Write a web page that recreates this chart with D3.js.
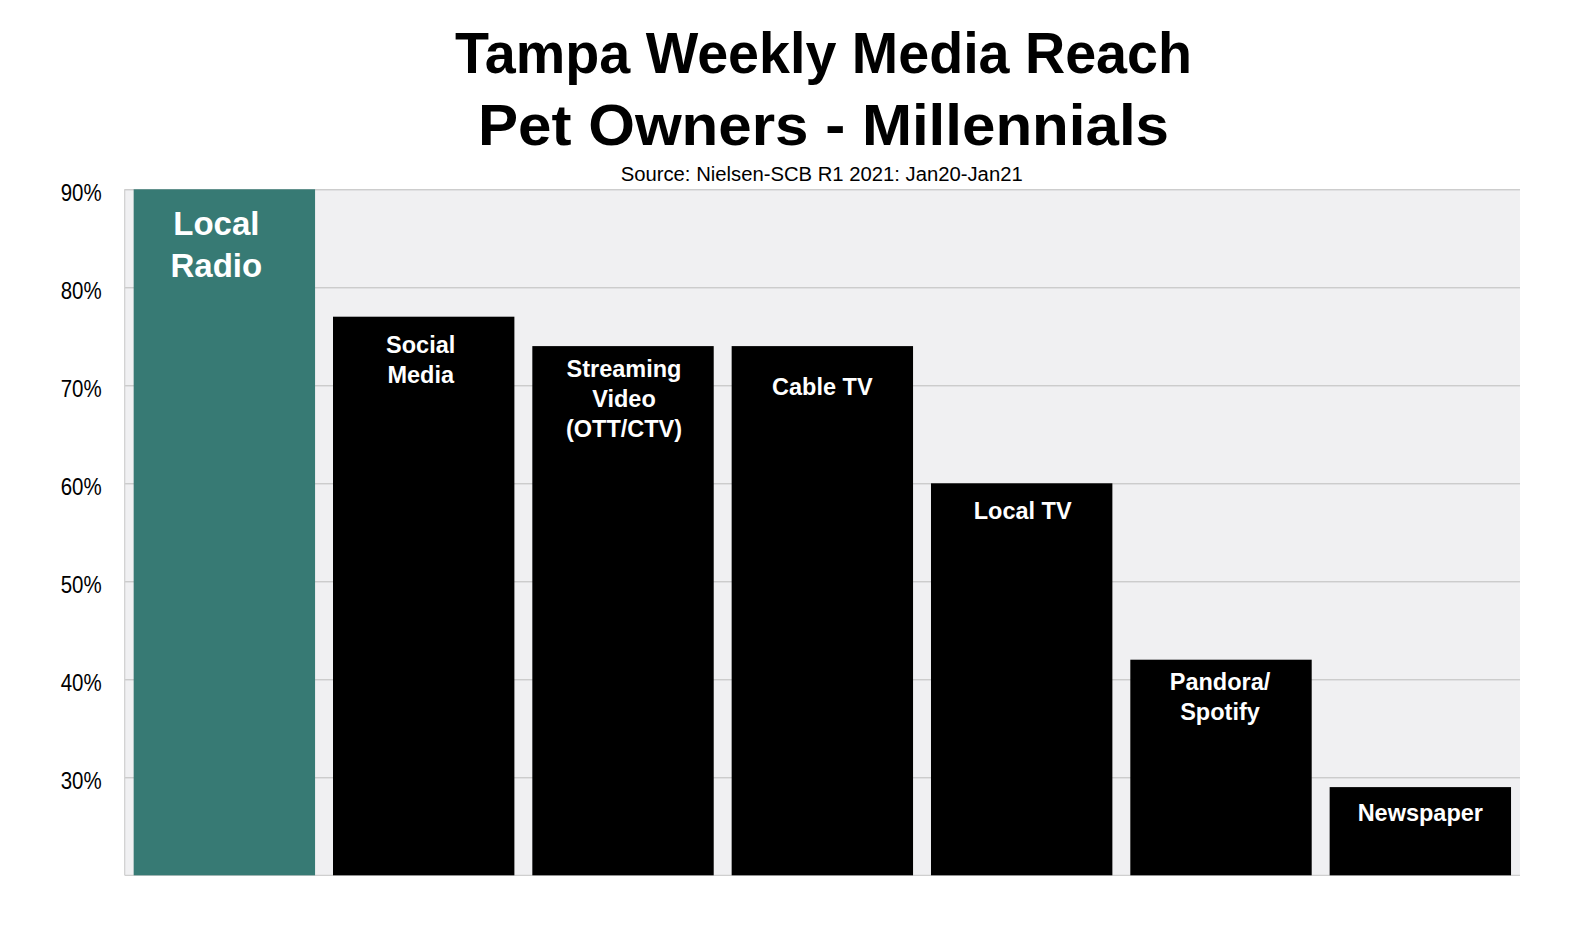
<!DOCTYPE html>
<html>
<head>
<meta charset="utf-8">
<script src="https://cdn.jsdelivr.net/npm/d3@7"></script>
<style>
  html, body { margin: 0; padding: 0; background: #ffffff; }
  svg { display: block; font-family: "Liberation Sans", Arial, Helvetica, sans-serif; }
</style>
</head>
<body>
<svg id="chart" width="1576" height="926"></svg>
<script>
// ---- data ----
const categories = ["Local Radio", "Social Media", "Streaming Video (OTT/CTV)", "Cable TV", "Local TV", "Pandora/ Spotify", "Newspaper"];
const labelLines = [["Local", "Radio"], ["Social", "Media"], ["Streaming", "Video", "(OTT/CTV)"], ["Cable TV"], ["Local TV"], ["Pandora/", "Spotify"], ["Newspaper"]];
const reach = [90, 77, 74, 74, 60, 42, 29];
const yTicks = [30, 40, 50, 60, 70, 80, 90];
const titleLines = ["Tampa Weekly Media Reach", "Pet Owners - Millennials"];
const sourceText = "Source: Nielsen-SCB R1 2021: Jan20-Jan21";

// ---- layout ----
const plot = { left: 124.7, right: 1520, top: 189.3, bottom: 875.3 };
const labelFirstOffset = [46, 36, 31, 49, 36, 30, 34];
const labelDx = [-8, -3, 1, 0, 1, -1, 0];
const highlightColor = "#377a74";

const svg = d3.select("#chart");

const x = d3.scaleBand()
  .domain(categories)
  .range([plot.left, plot.right])
  .paddingInner(0.09)
  .paddingOuter(0.045);

const y = d3.scaleLinear()
  .domain([20, 90])
  .range([plot.bottom, plot.top]);

// plot background
svg.append("rect")
  .attr("x", plot.left).attr("y", plot.top)
  .attr("width", plot.right - plot.left).attr("height", plot.bottom - plot.top)
  .attr("fill", "#f0f0f2");

// gridlines
svg.append("g")
  .attr("transform", `translate(${plot.left},0)`)
  .call(d3.axisLeft(y).tickValues(yTicks).tickSize(-(plot.right - plot.left)).tickFormat(""))
  .call(g => g.select(".domain").remove())
  .call(g => g.selectAll("line").attr("stroke", "#bdbdbd").attr("stroke-width", 1));

// y axis labels
svg.append("g")
  .attr("transform", `translate(${plot.left},0)`)
  .call(d3.axisLeft(y).tickValues(yTicks).tickSize(0).tickPadding(23).tickFormat(d => d + "%"))
  .call(g => g.select(".domain").remove())
  .call(g => g.selectAll("text")
    .attr("font-family", "'Liberation Sans', Arial, sans-serif")
    .attr("font-size", 23.5)
    .attr("fill", "#000")
    .attr("dy", "0.46em")
    .attr("textLength", 41)
    .attr("lengthAdjust", "spacingAndGlyphs"));

// left and bottom axis lines
svg.append("line")
  .attr("x1", plot.left).attr("x2", plot.left)
  .attr("y1", plot.top).attr("y2", plot.bottom)
  .attr("stroke", "#cfcfcf").attr("stroke-width", 1.2);
svg.append("line")
  .attr("x1", plot.left).attr("x2", plot.right)
  .attr("y1", plot.bottom).attr("y2", plot.bottom)
  .attr("stroke", "#cfcfcf").attr("stroke-width", 1.2);

// bars
svg.append("g").selectAll("rect")
  .data(categories)
  .join("rect")
  .attr("x", d => x(d))
  .attr("width", x.bandwidth())
  .attr("y", (d, i) => y(reach[i]))
  .attr("height", (d, i) => y(20) - y(reach[i]))
  .attr("fill", (d, i) => i === 0 ? highlightColor : "#000000");

// bar labels
const lbl = svg.append("g").selectAll("text")
  .data(categories)
  .join("text")
  .attr("text-anchor", "middle")
  .attr("fill", "#ffffff")
  .attr("font-weight", "bold")
  .attr("font-size", (d, i) => i === 0 ? 33 : 23.5)
  .attr("y", (d, i) => y(reach[i]) + labelFirstOffset[i]);
lbl.each(function(d, i) {
  const t = d3.select(this);
  const lh = i === 0 ? 42 : 30;
  const cxBar = x(d) + x.bandwidth() / 2 + labelDx[i];
  labelLines[i].forEach((line, k) => {
    t.append("tspan")
      .attr("x", cxBar)
      .attr("dy", k === 0 ? 0 : lh)
      .text(line);
  });
});

// title
const cx = (plot.left + plot.right) / 2;
svg.append("text")
  .attr("x", 823.5).attr("y", 73.3)
  .attr("text-anchor", "middle")
  .attr("font-weight", "bold").attr("font-size", 57)
  .attr("textLength", 737).attr("lengthAdjust", "spacingAndGlyphs")
  .attr("fill", "#000")
  .text(titleLines[0]);
svg.append("text")
  .attr("x", 823.5).attr("y", 145)
  .attr("text-anchor", "middle")
  .attr("font-weight", "bold").attr("font-size", 58)
  .attr("textLength", 691).attr("lengthAdjust", "spacingAndGlyphs")
  .attr("fill", "#000")
  .text(titleLines[1]);
svg.append("text")
  .attr("x", 821.7).attr("y", 180.7)
  .attr("text-anchor", "middle")
  .attr("font-size", 20)
  .attr("textLength", 402).attr("lengthAdjust", "spacingAndGlyphs")
  .attr("fill", "#000")
  .text(sourceText);
</script>
</body>
</html>
